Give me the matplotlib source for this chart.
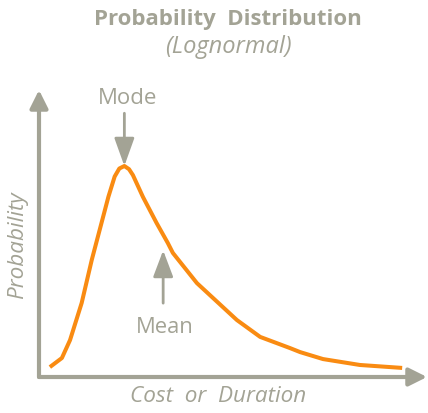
import matplotlib
matplotlib.use("Agg")
import matplotlib.pyplot as plt

# Curve (cost units, relative probability)
cost = [0.28, 0.59, 0.80, 1.10, 1.36, 1.79, 1.95, 2.07, 2.20, 2.32, 2.42, 2.68,
        3.03, 3.32, 3.45, 4.07, 5.10, 5.70, 6.47, 6.73, 7.32, 8.27, 9.36]
prob = [0.047, 0.090, 0.175, 0.351, 0.555, 0.855, 0.950, 0.988, 1.000, 0.985,
        0.957, 0.853, 0.730, 0.635, 0.588, 0.445, 0.270, 0.190, 0.137, 0.118,
        0.085, 0.057, 0.043]
mode_x, mode_y = 2.20, 1.000
mean_x, mean_y = 3.20, 0.60

GRAY = "#a3a395"
ORANGE = "#f98b12"
FONT = "Open Sans"

W, H = 428, 413
fig = plt.figure(figsize=(W / 100, H / 100), dpi=100)
ax = fig.add_axes([39 / W, (H - 377) / H, (427 - 39) / W, (377 - 90) / H])
ax.set_xlim(0, 10)
ax.set_ylim(0, 287 / 211)
ax.axis("off")

ax.plot(cost, prob, color=ORANGE, lw=2.9, solid_joinstyle="round",
        solid_capstyle="butt", zorder=3)

# axes arrows
for xy in [((1, 0)), ((0, 1))]:
    ax.annotate("", xy=xy, xytext=(0, 0), xycoords="axes fraction",
                textcoords="axes fraction",
                arrowprops=dict(arrowstyle="-|>,head_length=0.6,head_width=0.3",
                                lw=3, color=GRAY, mutation_scale=18,
                                shrinkA=0, shrinkB=0), annotation_clip=False)

# Mode arrow
ax.annotate("", xy=(mode_x, mode_y), xytext=(mode_x, 1.25),
            arrowprops=dict(arrowstyle="-|>,head_length=0.95,head_width=0.34",
                            lw=2, color=GRAY, mutation_scale=18,
                            shrinkA=0, shrinkB=0))
ax.text(mode_x + 0.07, 1.32, "Mode", ha="center", va="center", color=GRAY,
        fontsize=16, family=FONT)

# Mean arrow
ax.annotate("", xy=(mean_x, mean_y), xytext=(mean_x, 0.35),
            arrowprops=dict(arrowstyle="-|>,head_length=0.9,head_width=0.34",
                            lw=2, color=GRAY, mutation_scale=18,
                            shrinkA=0, shrinkB=0))
ax.text(mean_x + 0.03, 0.235, "Mean", ha="center", va="center", color=GRAY,
        fontsize=15.8, family=FONT)

fig.text(228 / W, 1 - 20 / H, "Probability  Distribution", ha="center",
         va="center", color=GRAY, fontsize=16, fontweight="bold", family=FONT)
fig.text(228 / W, 1 - 47 / H, "(Lognormal)", ha="center", va="center",
         color=GRAY, fontsize=17, style="italic", family=FONT)
fig.text(218 / W, 1 - 396 / H, "Cost  or  Duration", ha="center", va="center",
         color=GRAY, fontsize=16.2, style="italic", family=FONT)
fig.text(18 / W, 1 - 245 / H, "Probability", ha="center", va="center",
         color=GRAY, fontsize=16.2, style="italic", family=FONT, rotation=90)

fig.savefig("out.png", dpi=100)
